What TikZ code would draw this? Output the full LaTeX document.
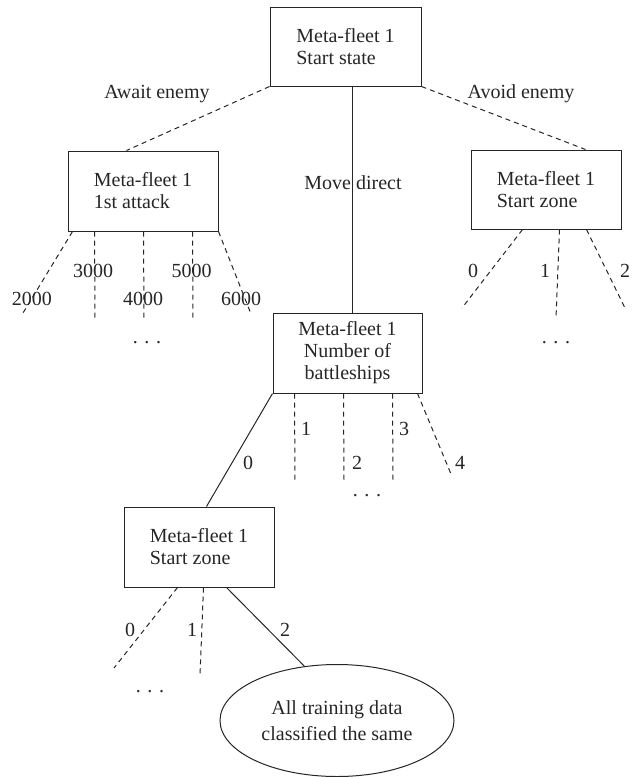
\documentclass[tikz,border=0pt]{standalone}
\usepackage{fontspec}
\setmainfont{Liberation Serif}
\usetikzlibrary{shapes.geometric}
\begin{document}
\begin{tikzpicture}[x=1pt,y=-1pt,
  every node/.style={font=\fontsize{20}{22}\selectfont, text=black!85},
  box/.style={draw=black!85, line width=1pt, inner sep=0pt, align=left},
  lab/.style={inner sep=0pt},
  solidedge/.style={draw=black!85, line width=1pt},
  dashedge/.style={draw=black!85, line width=1pt, dash pattern=on 5pt off 4pt}]
\useasboundingbox (0,0) rectangle (639,777);
% boxes
\node[box, minimum width=151pt, minimum height=79pt] (T) at (345.5,46.5) {Meta-fleet 1\\Start state};
\node[box, minimum width=150pt, minimum height=80pt] (L) at (143,191) {Meta-fleet 1\\1st attack};
\node[box, minimum width=150pt, minimum height=79pt] (R) at (546,189.5) {Meta-fleet 1\\Start zone};
\node[box, minimum width=149pt, minimum height=80pt, align=center] (M) at (347.5,353) {Meta-fleet 1\\Number of\\battleships};
\node[box, minimum width=150pt, minimum height=80pt] (B) at (199,547) {Meta-fleet 1\\Start zone};
\node[draw=black!85, line width=1pt, ellipse, minimum width=234pt, minimum height=112pt, inner sep=0pt, align=center,
  font=\fontsize{20}{26}\selectfont] (E) at (337,720.5) {All training data\\classified the same};
% top edges
\draw[dashedge] (T.south west) -- ([xshift=59pt]L.north west);
\draw[dashedge] (T.south east) -- ([xshift=115pt]R.north west);
\draw[solidedge] ([xshift=6.5pt]T.south) -- ([xshift=4.5pt]M.north);
\node[lab, anchor=base] (la) at (157,98) {Await enemy};
\node[lab, anchor=base] (lb) at (521,98) {Avoid enemy};
\node[lab, anchor=base] (lc) at (353,189) {Move direct};
% L children
\coordinate (a0) at (23,313);
\coordinate (a1) at (95,319);
\coordinate (a2) at (144,319);
\coordinate (a3) at (193,319);
\coordinate (a4) at (251,314);
\draw[dashedge] ([xshift=5pt]L.south west) -- (a0);
\draw[dashedge] ([xshift=27pt]L.south west) -- (a1);
\draw[dashedge] ([xshift=76pt]L.south west) -- (a2);
\draw[dashedge] ([xshift=125pt]L.south west) -- (a3);
\draw[dashedge] (L.south east) -- (a4);
\node[lab] (l2000) at (32,299) {2000};
\node[lab] (l3000) at (93,271) {3000};
\node[lab] (l4000) at (143,299) {4000};
\node[lab] (l5000) at (191.5,271) {5000};
\node[lab] (l6000) at (241,299) {6000};
\node[lab] (ld) at (147,343) {. . .};
% R children
\coordinate (r0) at (462,308);
\coordinate (r1) at (556,318);
\coordinate (r2) at (625,308);
\draw[dashedge] ([xshift=52pt]R.south west) -- (r0);
\draw[dashedge] ([xshift=89pt]R.south west) -- (r1);
\draw[dashedge] ([xshift=116pt]R.south west) -- (r2);
\node[lab] (rl0) at (473,271) {0};
\node[lab] (rl1) at (545,271) {1};
\node[lab] (rl2) at (625,271) {2};
\node[lab] (rd) at (556,343) {. . .};
% M children
\coordinate (m1) at (295,480);
\coordinate (m2) at (344,480);
\coordinate (m3) at (393,480);
\coordinate (m4) at (451,474);
\draw[solidedge] (M.south west) -- ([xshift=83pt]B.north west);
\draw[dashedge] ([xshift=22pt]M.south west) -- (m1);
\draw[dashedge] ([xshift=71pt]M.south west) -- (m2);
\draw[dashedge] ([xshift=120pt]M.south west) -- (m3);
\draw[dashedge] ([xshift=145pt]M.south west) -- (m4);
\node[lab] (ml0) at (248,463) {0};
\node[lab] (ml1) at (306,429) {1};
\node[lab] (ml2) at (357,463) {2};
\node[lab] (ml3) at (404,429) {3};
\node[lab] (ml4) at (460,463) {4};
\node[lab] (md) at (367,496) {. . .};
% B children
\coordinate (b0) at (114,668);
\coordinate (b1) at (200,675);
\draw[dashedge] ([xshift=54pt]B.south west) -- (b0);
\draw[dashedge] ([xshift=80pt]B.south west) -- (b1);
\draw[solidedge] ([xshift=103pt]B.south west) -- (E.121);
\node[lab] (bl0) at (130,630) {0};
\node[lab] (bl1) at (192,630) {1};
\node[lab] (bl2) at (285,630) {2};
\node[lab] (bd) at (150,692) {. . .};
\end{tikzpicture}
\end{document}
